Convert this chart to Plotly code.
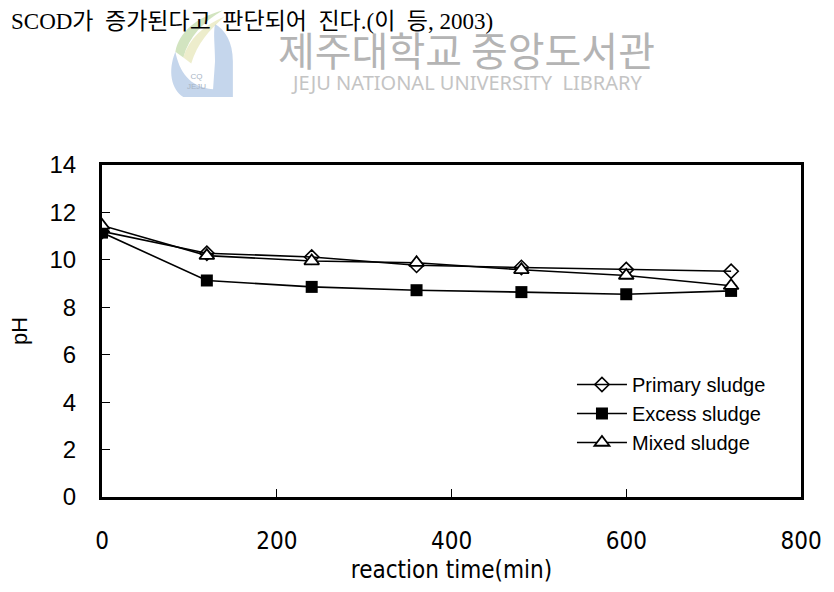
import plotly.graph_objects as go

# reaction time (min) and pH for each sludge type
time_min = [0, 120, 240, 360, 480, 600, 720]
ph_primary = [11.2, 10.28, 10.12, 9.77, 9.68, 9.59, 9.52]
ph_excess = [11.15, 9.13, 8.86, 8.72, 8.64, 8.55, 8.69]
ph_mixed = [11.45, 10.18, 9.95, 9.88, 9.58, 9.34, 8.91]

series_names = ["Primary sludge", "Excess sludge", "Mixed sludge"]
x_ticks = [0, 200, 400, 600, 800]
y_ticks = [0, 2, 4, 6, 8, 10, 12, 14]

W, H = 834, 592
L, R, T, B = 102, 27, 165, 90
PW, PH = W - L - R, H - T - B


def px(x):
    return (x - L) / PW


def py(y):
    return (H - B - y) / PH


fig = go.Figure()
styles = [
    dict(symbol="diamond-open", size=11, color="black", line=dict(width=1.6, color="black")),
    dict(symbol="square", size=12, color="black", line=dict(width=0)),
    dict(symbol="triangle-up", size=13, color="white", line=dict(width=1.8, color="black")),
]
for name, ys, mk in zip(series_names, [ph_primary, ph_excess, ph_mixed], styles):
    fig.add_trace(go.Scatter(
        x=time_min, y=ys, name=name, mode="lines+markers", legendgroup=name,
        line=dict(color="black", width=1.6), marker=mk,
    ))

narrow = "Liberation Sans Narrow, DejaVu Sans Condensed, Liberation Sans"
axis_common = dict(
    showline=True, linecolor="black", linewidth=3, mirror=True,
    ticks="inside", ticklen=8, tickwidth=1, tickcolor="black",
    showgrid=False, zeroline=False,
)
fig.update_xaxes(
    range=[0, 800], tickvals=x_ticks, ticktext=[str(v) for v in x_ticks],
    tickfont=dict(family=narrow, size=24, color="black"),
    title=dict(text="reaction time(min)", standoff=8,
               font=dict(family=narrow, size=24, color="black")),
    ticklabelstandoff=20,
    **axis_common,
)
fig.update_yaxes(
    range=[0, 14], tickvals=y_ticks,
    tickfont=dict(family="Liberation Sans, Arial", size=24, color="black"),
    title=dict(text="pH", standoff=16,
               font=dict(family="Liberation Sans, Arial", size=22, color="black")),
    ticklabelstandoff=18,
    **axis_common,
)

sp = "\u2002"
header = f"SCOD가{sp}증가된다고{sp}판단되어{sp}진다.(이{sp}등, 2003)"

paper = dict(xref="paper", yref="paper", showarrow=False)
annotations = [
    dict(text=header, x=px(8), y=py(19),
         xanchor="left", yanchor="middle",
         font=dict(family="Liberation Serif, Noto Sans CJK KR", size=23, color="black"), **paper),
    dict(text="제주대학교 중앙도서관", x=px(470), y=py(47),
         xanchor="center", yanchor="middle",
         font=dict(family="Noto Sans CJK KR", size=40, color="#b4b4b4"), **paper),
    dict(text="JEJU NATIONAL UNIVERSITY  LIBRARY", x=px(470), y=py(81),
         xanchor="center", yanchor="middle",
         font=dict(family="Noto Sans, Liberation Sans", size=20, color="#c4c4c4"), **paper),
    dict(text="CQ<br>JEJU", x=px(197), y=py(80),
         xanchor="center", yanchor="middle",
         font=dict(family="Liberation Sans", size=8, color="#a8b4c4"), **paper),
]

# library emblem: a pale blue "J" with green and yellow swooshes
emblem_blue = (f"M {px(216)},{py(22)} C {px(226)},{py(28)} {px(234)},{py(40)} {px(234)},{py(60)} "
               f"L {px(234)},{py(96)} L {px(184)},{py(96)} C {px(172)},{py(88)} {px(168)},{py(70)} {px(176)},{py(50)} "
               f"C {px(180)},{py(70)} {px(190)},{py(86)} {px(214)},{py(88)} L {px(216)},{py(60)} "
               f"C {px(216)},{py(44)} {px(214)},{py(32)} {px(216)},{py(22)} Z")
emblem_green = (f"M {px(176)},{py(50)} C {px(180)},{py(30)} {px(196)},{py(16)} {px(224)},{py(8)} "
                f"C {px(204)},{py(20)} {px(190)},{py(34)} {px(184)},{py(56)} Z")
emblem_yellow = (f"M {px(184)},{py(56)} C {px(190)},{py(36)} {px(204)},{py(24)} {px(226)},{py(14)} "
                 f"C {px(210)},{py(28)} {px(198)},{py(42)} {px(192)},{py(62)} Z")
shapes = [
    dict(type="path", path=emblem_blue, xref="paper", yref="paper",
         fillcolor="rgba(150,180,220,0.55)", line=dict(width=0), layer="above"),
    dict(type="path", path=emblem_green, xref="paper", yref="paper",
         fillcolor="rgba(180,210,150,0.6)", line=dict(width=0), layer="above"),
    dict(type="path", path=emblem_yellow, xref="paper", yref="paper",
         fillcolor="rgba(225,225,170,0.6)", line=dict(width=0), layer="above"),
]

fig.update_layout(
    width=W, height=H,
    margin=dict(l=L, r=R, t=T, b=B),
    paper_bgcolor="white", plot_bgcolor="white",
    showlegend=True,
    legend=dict(x=px(576), y=py(368), xanchor="left", yanchor="top",
                bgcolor="rgba(0,0,0,0)", borderwidth=0,
                font=dict(family="Liberation Sans, Arial", size=20, color="black"),
                itemwidth=50, tracegroupgap=0),
    annotations=annotations,
    shapes=shapes,
)

fig.write_html("out.html")
